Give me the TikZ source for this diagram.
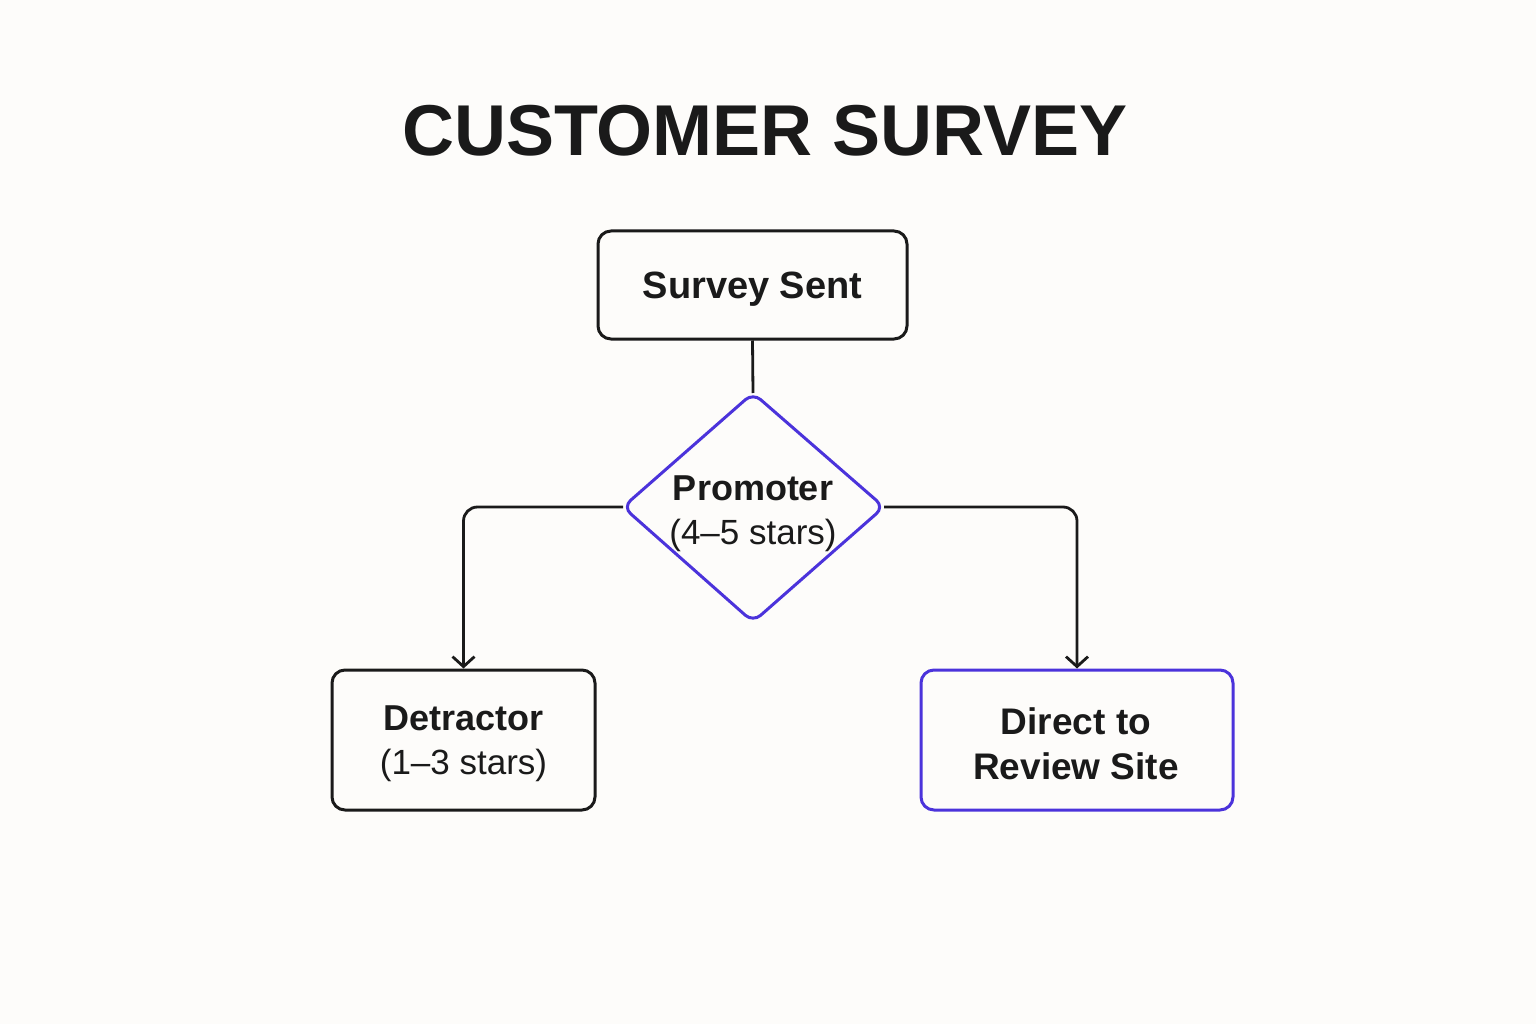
\documentclass[tikz,border=0pt]{standalone}
\usepackage{fontspec}
\setmainfont{Liberation Sans}
\usetikzlibrary{shapes.geometric,arrows.meta}
\definecolor{bg}{HTML}{FDFCFA}
\definecolor{ink}{HTML}{1A1A1A}
\definecolor{violet}{HTML}{4B33DB}
\tikzset{
  box/.style={draw=ink, line width=3pt, rounded corners=13pt, align=center, text=ink, inner sep=0pt},
  vbox/.style={box, draw=violet},
  lbl/.style={align=center, text=ink, inner sep=0pt},
  conn/.style={draw=ink, line width=2.8pt, rounded corners=14pt},
  arr/.style={conn, -{Straight Barb[length=10pt,width=22pt,line width=2.8pt]}},
  two/.style={font=\fontsize{36}{44}\selectfont},
}
\begin{document}
\begin{tikzpicture}[x=1pt,y=-1pt]
\useasboundingbox (0,0) rectangle (1536,1024);
\fill[bg] (0,0) rectangle (1536,1024);
\node[text=ink, font=\fontsize{72}{80}\selectfont\bfseries, text depth=0pt] (title) at (765,130) {CUSTOMER SURVEY};
\node[box, minimum width=309pt, minimum height=108pt, text depth=0pt, font=\fontsize{38}{40}\selectfont\bfseries] (sent) at (752.5,285) {Survey Sent};
\draw[violet, line width=3pt, rounded corners=10pt, fill=bg] (753,393) -- (884,507) -- (753,622) -- (623,507) -- cycle;
\coordinate (dtop) at (753,393);
\coordinate (dleft) at (623,507);
\coordinate (dright) at (884,507);
\node[lbl, two] (prom) at (753,514) {\textbf{Promoter}\\{\fontsize{35}{44}\selectfont (4–5 stars)}};
\node[box, minimum width=263pt, minimum height=140pt] (det) at (463.5,740) {};
\node[lbl, two] (detlbl) at (463.5,744) {\textbf{Detractor}\\{\fontsize{35}{44}\selectfont (1–3 stars)}};
\node[vbox, minimum width=312pt, minimum height=140pt] (rev) at (1077,740) {};
\node[lbl, font=\fontsize{37}{45}\selectfont\bfseries] (revlbl) at (1076,744) {Direct to\\Review Site};
\draw[conn] (sent.south) -- (dtop);
\draw[arr] (dleft) -| (det.north);
\draw[arr] (dright) -| (rev.north);
\end{tikzpicture}
\end{document}
